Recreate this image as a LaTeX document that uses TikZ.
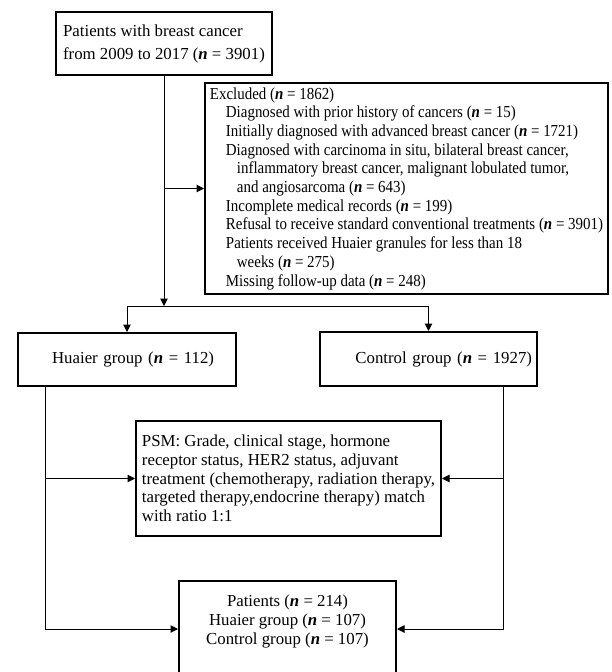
\documentclass[tikz,border=0pt]{standalone}
\usepackage{fontspec}
\setmainfont{Liberation Serif}
\newfontfamily\narrowfont[FakeStretch=0.89]{Liberation Serif}
\usetikzlibrary{arrows.meta}
\newcommand{\nn}{\textbf{\textit{n}}}

\begin{document}
\begin{tikzpicture}[x=1pt, y=-1pt, line width=1pt, >={Triangle[length=7.5pt,width=7.5pt]},
		box/.style={draw, line width=2pt, inner sep=0pt, font=\fontsize{16.8}{18.7}\selectfont}]
		\useasboundingbox (0,0) rectangle (611,672);
		\clip (0,0) rectangle (611,672);

		\node[box, minimum width=216pt, minimum height=63pt, align=left, font=\fontsize{16.8}{23}\selectfont] (n-top) at (164,43.5) {Patients with breast cancer\\from 2009 to 2017 (\nn{} = 3901)};
		\node[box, minimum width=403pt, minimum height=211pt, align=left, font=\narrowfont\fontsize{16.8}{18.7}\selectfont] (n-excl) at (406.5,188.5) {Excluded (\nn{} = 1862)\\
			\hspace*{16pt}Diagnosed with prior history of cancers (\nn{} = 15)\\
			\hspace*{16pt}Initially diagnosed with advanced breast cancer (\nn{} = 1721)\\
			\hspace*{16pt}Diagnosed with carcinoma in situ, bilateral breast cancer,\\
			\hspace*{27pt}inflammatory breast cancer, malignant lobulated tumor,\\
			\hspace*{27pt}and angiosarcoma (\nn{} = 643)\\
			\hspace*{16pt}Incomplete medical records (\nn{} = 199)\\
			\hspace*{16pt}Refusal to receive standard conventional treatments (\nn{} = 3901)\\
			\hspace*{16pt}Patients received Huaier granules for less than 18\\
			\hspace*{27pt}weeks (\nn{} = 275)\\
			\hspace*{16pt}Missing follow-up data (\nn{} = 248)};

		\node[box, minimum height=53pt, inner xsep=22pt, text width=174pt, align=right] (n-huaier) at (127,359.5) {Huaier group (\nn{} = 112)};
		\node[box, minimum height=54pt, inner xsep=5pt, text width=207pt, align=right] (n-control) at (428.5,359) {Control group (\nn{} = 1927)};

		\node[box, minimum width=305pt, minimum height=115pt, align=left] (n-psm) at (288.5,478.5) {PSM: Grade, clinical stage, hormone\\receptor status, HER2 status, adjuvant\\treatment (chemotherapy, radiation therapy,\\targeted therapy,endocrine therapy) match\\with ratio 1:1};
		\node[box, minimum width=217pt, minimum height=96pt, align=center] (n-final) at (287.5,629) {Patients (\nn{} = 214)\\Huaier group (\nn{} = 107)\\Control group (\nn{} = 107)\\\mbox{}};

		\coordinate (split) at (164,306);
		\coordinate (hdrop) at ([xshift=28pt]n-huaier.south west);
		\coordinate (cdrop) at ([xshift=-35pt]n-control.south east);

		\draw[->] (n-top) -- (split);
		\draw[->] (n-top.south |- n-excl.west) -- (n-excl.west);
		\draw[->] (split) -| (n-huaier);
		\draw[->] (split) -| (n-control);
		\draw[->] (hdrop |- n-psm.west) -- (n-psm.west);
		\draw[->] (cdrop |- n-psm.east) -- (n-psm.east);
		\draw[->] (hdrop) |- (n-final.west);
		\draw[->] (cdrop) |- (n-final.east);
	\end{tikzpicture}
\end{document}
